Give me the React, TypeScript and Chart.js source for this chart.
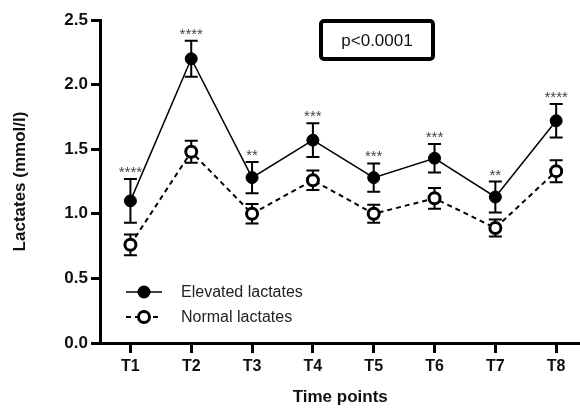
import { useEffect, useRef } from 'react';
import { Chart, registerables } from 'chart.js';

Chart.register(...registerables);

const FONT = "'Liberation Sans', Arial, Helvetica, sans-serif";

const timePoints = ['T1', 'T2', 'T3', 'T4', 'T5', 'T6', 'T7', 'T8'];
const elevatedMean = [1.10, 2.20, 1.28, 1.57, 1.28, 1.43, 1.13, 1.72];
const elevatedSem = [0.17, 0.14, 0.12, 0.13, 0.11, 0.11, 0.12, 0.13];
const normalMean = [0.76, 1.48, 1.00, 1.26, 1.00, 1.12, 0.89, 1.33];
const normalSem = [0.08, 0.085, 0.075, 0.075, 0.07, 0.08, 0.065, 0.085];
const significance = ['****', '****', '**', '***', '***', '***', '**', '****'];
const seriesNames = ['Elevated lactates', 'Normal lactates'];
const pValueText = 'p<0.0001';

export default function App() {
  const ref = useRef<HTMLCanvasElement>(null);

  useEffect(() => {
    document.body.style.margin = '0';
    const canvas = ref.current;
    if (!canvas) return;

    const errorBars = {
      id: 'errorBars',
      beforeDatasetsDraw(chart: any) {
        const { ctx, scales } = chart;
        const x = scales.x;
        const y = scales.y;
        const groups: [number[], number[]][] = [
          [elevatedMean, elevatedSem],
          [normalMean, normalSem],
        ];
        ctx.save();
        ctx.strokeStyle = '#000';
        ctx.lineWidth = 2;
        groups.forEach(([m, s]) => {
          m.forEach((v, i) => {
            const px = x.getPixelForValue(i + 1);
            const top = y.getPixelForValue(v + s[i]);
            const bot = y.getPixelForValue(v - s[i]);
            ctx.beginPath();
            ctx.moveTo(px, top);
            ctx.lineTo(px, bot);
            ctx.moveTo(px - 6.5, top);
            ctx.lineTo(px + 6.5, top);
            ctx.moveTo(px - 6.5, bot);
            ctx.lineTo(px + 6.5, bot);
            ctx.stroke();
          });
        });
        ctx.restore();
      },
    };

    const stars = {
      id: 'stars',
      afterDatasetsDraw(chart: any) {
        const { ctx, scales } = chart;
        const x = scales.x;
        const y = scales.y;
        ctx.save();
        ctx.fillStyle = '#444';
        ctx.font = `15px ${FONT}`;
        ctx.textAlign = 'center';
        ctx.textBaseline = 'alphabetic';
        significance.forEach((s, i) => {
          const px = x.getPixelForValue(i + 1);
          const top = y.getPixelForValue(elevatedMean[i] + elevatedSem[i]);
          ctx.fillText(s, px, top - 2);
        });
        ctx.restore();
      },
    };

    const extras = {
      id: 'extras',
      afterDraw(chart: any) {
        const { ctx } = chart;
        ctx.save();
        // p-value box
        ctx.strokeStyle = '#000';
        ctx.lineWidth = 4;
        ctx.beginPath();
        if (ctx.roundRect) ctx.roundRect(321, 21, 112, 38, 3);
        else ctx.rect(321, 21, 112, 38);
        ctx.stroke();
        ctx.fillStyle = '#111';
        ctx.font = `17px ${FONT}`;
        ctx.textAlign = 'center';
        ctx.textBaseline = 'middle';
        ctx.fillText(pValueText, 377, 41);

        // legend
        const rows = [
          { label: seriesNames[0], y: 292, dashed: false },
          { label: seriesNames[1], y: 317, dashed: true },
        ];
        rows.forEach((r) => {
          ctx.strokeStyle = '#000';
          ctx.setLineDash(r.dashed ? [5, 4] : []);
          ctx.lineWidth = r.dashed ? 2 : 1.5;
          ctx.beginPath();
          ctx.moveTo(126, r.y);
          ctx.lineTo(162, r.y);
          ctx.stroke();
          ctx.setLineDash([]);
          ctx.beginPath();
          if (r.dashed) {
            ctx.arc(144, r.y, 5.5, 0, Math.PI * 2);
            ctx.fillStyle = '#fff';
            ctx.fill();
            ctx.lineWidth = 3;
            ctx.stroke();
          } else {
            ctx.arc(144, r.y, 6.5, 0, Math.PI * 2);
            ctx.fillStyle = '#000';
            ctx.fill();
          }
          ctx.fillStyle = '#222';
          ctx.font = `16px ${FONT}`;
          ctx.textAlign = 'left';
          ctx.textBaseline = 'middle';
          ctx.fillText(r.label, 181, r.y + 1);
        });
        ctx.restore();
      },
    };

    const chart = new Chart(canvas, {
      type: 'line',
      data: {
        datasets: [
          {
            label: seriesNames[0],
            data: elevatedMean.map((v, i) => ({ x: i + 1, y: v })),
            borderColor: '#000',
            borderWidth: 1.5,
            pointRadius: 6,
            pointBackgroundColor: '#000',
            pointBorderColor: '#000',
            pointBorderWidth: 1,
            tension: 0,
          },
          {
            label: seriesNames[1],
            data: normalMean.map((v, i) => ({ x: i + 1, y: v })),
            borderColor: '#000',
            borderWidth: 2,
            borderDash: [5, 4],
            pointRadius: 5.5,
            pointBackgroundColor: '#fff',
            pointBorderColor: '#000',
            pointBorderWidth: 3,
            tension: 0,
          },
        ],
      },
      options: {
        animation: false,
        responsive: true,
        maintainAspectRatio: false,
        layout: { padding: { top: 20, right: 0, left: 0, bottom: 0 } },
        plugins: {
          legend: { display: false },
          tooltip: { enabled: false },
        },
        scales: {
          x: {
            type: 'linear',
            min: 0.5,
            max: 8.4,
            afterBuildTicks(scale: any) {
              scale.ticks = timePoints.map((_, i) => ({ value: i + 1 }));
            },
            afterFit(scale: any) {
              scale.height = 69;
            },
            ticks: {
              autoSkip: false,
              maxRotation: 0,
              color: '#111',
              padding: 4,
              font: { family: FONT, size: 16, weight: 'bold' },
              callback: (v: any) => timePoints[Number(v) - 1] ?? '',
            },
            grid: {
              drawOnChartArea: false,
              drawTicks: true,
              tickLength: 10,
              color: '#000',
              lineWidth: 3,
            },
            border: { display: true, color: '#000', width: 3 },
            title: {
              display: true,
              text: 'Time points',
              color: '#111',
              font: { family: FONT, size: 17, weight: 'bold', lineHeight: 1.2 },
              padding: { top: 0, bottom: 4 },
            },
          },
          y: {
            type: 'linear',
            min: 0,
            max: 2.5,
            afterFit(scale: any) {
              scale.width = 100;
            },
            ticks: {
              stepSize: 0.5,
              color: '#111',
              padding: 3,
              font: { family: FONT, size: 17, weight: 'bold' },
              callback: (v: any) => Number(v).toFixed(1),
            },
            grid: {
              drawOnChartArea: false,
              drawTicks: true,
              tickLength: 9,
              color: '#000',
              lineWidth: 3,
            },
            border: { display: true, color: '#000', width: 3 },
            title: {
              display: true,
              text: 'Lactates (mmol/l)',
              color: '#111',
              font: { family: FONT, size: 17, weight: 'bold', lineHeight: 1.2 },
              padding: { top: 10, bottom: 0 },
            },
          },
        },
      },
      plugins: [errorBars, stars, extras],
    } as any);

    return () => chart.destroy();
  }, []);

  return (
    <div style={{ position: 'relative', width: 580, height: 412, overflow: 'hidden' }}>
      <div style={{ position: 'relative', width: 589, height: 412 }}>
        <canvas ref={ref} />
      </div>
    </div>
  );
}
